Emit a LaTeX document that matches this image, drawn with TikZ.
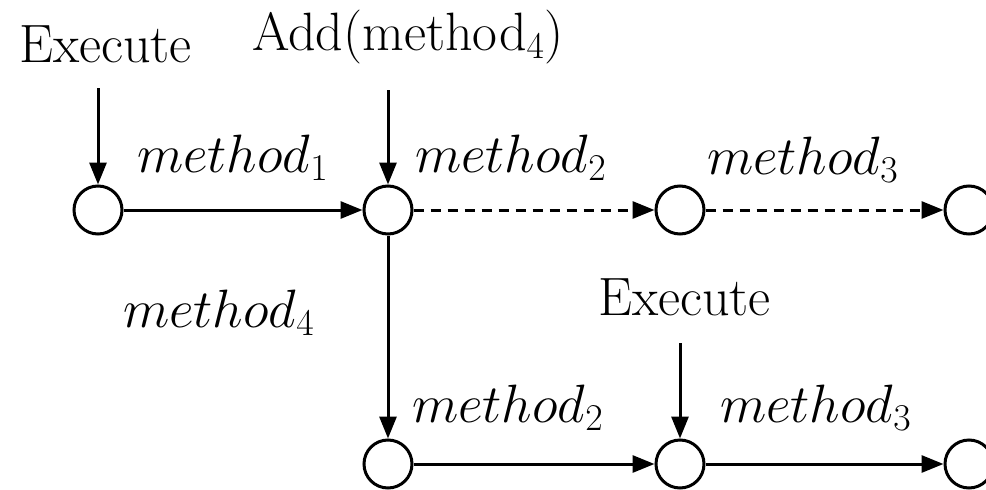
\RequirePackage{fix-cm}
\documentclass[tikz,border=0pt]{standalone}
\usetikzlibrary{arrows.meta}
\begin{document}
\begin{tikzpicture}[x=1pt,y=-1pt,font=\fontsize{54}{60}\selectfont,
  st/.style={circle,draw,line width=3pt,minimum size=48pt,inner sep=0pt},
  lbl/.style={anchor=base west,inner sep=0pt},
  con/.style={line width=3pt,-{Triangle[length=22pt,width=17pt]}},
  dsh/.style={con,dash pattern=on 10pt off 7pt}]
\clip (0,0) rectangle (986,490);
\fill[white] (0,0) rectangle (986,490);
% states
\node[st] (n1) at (98,210) {};
\node[st] (n2) at (388,210) {};
\node[st] (n3) at (680,210) {};
\node[st] (n4) at (969,210) {};
\node[st] (n5) at (388,464) {};
\node[st] (n6) at (680,464) {};
\node[st] (n7) at (969,464) {};
% free ends
\coordinate (e1) at (98,88);
\coordinate (e2) at (388,90);
\coordinate (e3) at (680,343);
% connectors
\draw[con] (e1) -- (n1);
\draw[con] (e2) -- (n2);
\draw[con] (e3) -- (n6);
\draw[con] (n1) -- (n2);
\draw[dsh] (n2) -- (n3);
\draw[dsh] (n3) -- (n4);
\draw[con] (n2) -- (n5);
\draw[con] (n5) -- (n6);
\draw[con] (n6) -- (n7);
% labels
\node[lbl] (tExec1) at (19,62) {Execute};
\node[lbl] (tAdd) at (252,50) {Add(method$_4$)};
\node[lbl] (tm1) at (137,172) {$method_1$};
\node[lbl] (tm2a) at (415,172) {$method_2$};
\node[lbl] (tm3a) at (707,174) {$method_3$};
\node[lbl] (tm4) at (123,327) {$method_4$};
\node[lbl] (tExec2) at (598,315) {Execute};
\node[lbl] (tm2b) at (412,422) {$method_2$};
\node[lbl] (tm3b) at (720,422) {$method_3$};
\end{tikzpicture}
\end{document}
